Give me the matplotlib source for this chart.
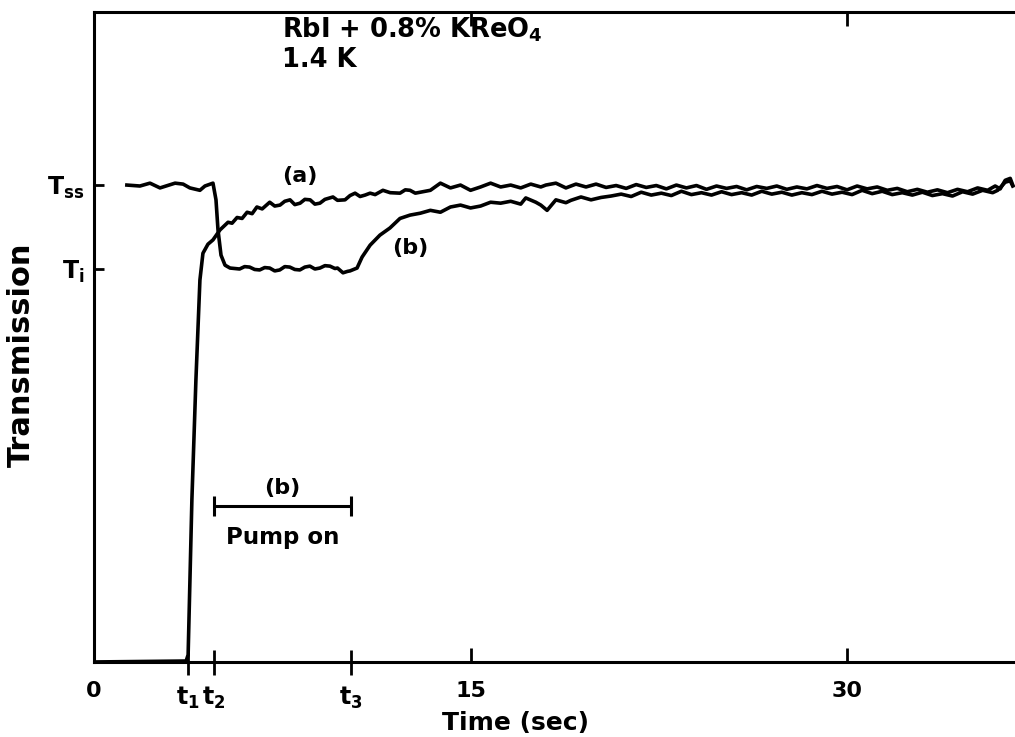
import matplotlib.pyplot as plt
import numpy as np

plt.rcParams['font.family'] = ['DejaVu Sans']
plt.rcParams['mathtext.fontset'] = 'dejavusans'
plt.rcParams['mathtext.default'] = 'bf'

# pulse times (sec)
t1, t2, t3 = 3.75, 4.78, 10.24
T_ss, T_i = 100.0, 82.4   # transmission, % of steady state

# trace (a): light switched on at t1
time_a = [0, 3.67, 3.75, 3.90, 4.06, 4.22, 4.34, 4.54, 4.74, 5.02, 5.34, 5.5,
          5.7, 5.9, 6.1, 6.3, 6.49, 6.7, 7.0, 7.2, 7.41, 7.6, 7.81, 8.0, 8.21,
          8.4, 8.61, 8.8, 9.0, 9.2, 9.52, 9.7, 10.0, 10.2, 10.4, 10.6, 10.8,
          11.0, 11.2, 11.51, 11.8, 12.19, 12.4, 12.59, 12.8,
          13.0, 13.4, 13.8, 14.2, 14.6, 15.0, 15.4, 15.8, 16.2, 16.6, 17.0,
          17.4, 17.8, 18.0, 18.4, 18.8, 19.2, 19.6, 20.0, 20.4, 20.8, 21.2,
          21.6, 22.0, 22.4, 22.8, 23.2, 23.6, 24.0, 24.4, 24.8, 25.2, 25.6,
          26.0, 26.4, 26.8, 27.2, 27.6, 28.0, 28.4, 28.8, 29.2, 29.6, 30.0,
          30.4, 30.8, 31.2, 31.6, 32.0, 32.4, 32.8, 33.2, 33.6, 34.0, 34.4,
          34.8, 35.2, 35.6, 35.9, 36.1, 36.3, 36.5, 36.6]
trans_a = [0, 0.2, 1.5, 34.0, 59.1, 80.1, 85.7, 87.6, 88.5, 90.6, 92.2, 92.0,
           93.2, 93.0, 94.3, 94.0, 95.4, 95.0, 96.4, 95.6, 95.8, 96.6, 96.9, 95.9, 96.2,
           97.0, 96.9, 96.0, 96.2, 97.0, 97.5, 96.8, 96.9, 97.8, 98.3, 97.6, 97.9,
           98.3, 98.0, 98.9, 98.4, 98.3, 99.0, 98.9, 98.3,
           98.5, 98.9, 100.4, 99.4, 100.0, 98.9, 99.6, 100.4, 99.6, 100.0, 99.4,
           100.2, 99.6, 100.0, 100.4, 99.4, 100.2, 99.6, 100.2, 99.5, 99.9, 99.3,
           100.1, 99.5, 99.9, 99.2, 100.0, 99.4, 99.9, 99.1, 99.8, 99.3, 99.7,
           99.0, 99.7, 99.3, 99.8, 99.1, 99.6, 99.2, 99.9, 99.3, 99.7, 99.0,
           99.8, 99.2, 99.6, 98.9, 99.3, 98.6, 99.1, 98.5, 99.0, 98.4, 99.1,
           98.6, 99.4, 98.9, 99.8, 99.2, 101.0, 101.4, 100.0]

# trace (b): pump on between t2 and t3
time_b = [1.31, 1.83, 2.23, 2.63, 3.23, 3.55, 3.82, 4.22, 4.42, 4.74, 4.86,
          4.94, 5.06, 5.22, 5.42, 5.8, 6.0, 6.2, 6.4, 6.6, 6.8, 7.0, 7.2, 7.4,
          7.6, 7.8, 8.0, 8.2, 8.4, 8.6, 8.8, 9.0, 9.2, 9.4, 9.6, 9.7, 9.92,
          10.1, 10.2, 10.48, 10.68, 11.00, 11.39, 11.79, 12.19, 12.59,
          13.0, 13.4, 13.8, 14.2, 14.6, 15.0, 15.4, 15.8, 16.2, 16.6, 17.0,
          17.2, 17.6, 17.8, 18.05, 18.4, 18.8, 19.0, 19.4, 19.8, 20.2, 20.6,
          21.0, 21.4, 21.8, 22.2, 22.6, 23.0, 23.4, 23.8, 24.2, 24.6, 25.0,
          25.4, 25.8, 26.2, 26.6, 27.0, 27.4, 27.8, 28.2, 28.6, 29.0, 29.4,
          29.8, 30.2, 30.6, 31.0, 31.4, 31.8, 32.2, 32.6, 33.0, 33.4, 33.8,
          34.2, 34.6, 35.0, 35.4, 35.8, 36.0, 36.3, 36.5, 36.6]
trans_b = [100.0, 99.8, 100.4, 99.4, 100.4, 100.2, 99.4, 98.9, 99.8, 100.4, 96.9,
           90.6, 85.3, 83.2, 82.6, 82.4, 82.9, 82.8, 82.3, 82.2, 82.7, 82.6, 82.0, 82.2,
           82.9, 82.8, 82.3, 82.2, 82.8, 83.0, 82.4, 82.6, 83.1, 83.0, 82.5, 82.6, 81.6,
           81.9, 82.0, 82.6, 84.9, 87.4, 89.5, 91.0, 93.0, 93.7,
           94.1, 94.7, 94.3, 95.4, 95.8, 95.2, 95.6, 96.4, 96.2, 96.6, 96.0,
           97.3, 96.4, 95.8, 94.7, 96.9, 96.3, 96.8, 97.5, 96.9, 97.4, 97.7,
           98.1, 97.6, 98.5, 97.9, 98.3, 97.8, 98.7, 98.0, 98.4, 97.9, 98.6,
           98.0, 98.4, 97.9, 98.7, 98.1, 98.5, 97.9, 98.4, 98.0, 98.7, 98.1,
           98.5, 98.0, 98.9, 98.2, 98.7, 98.0, 98.4, 97.9, 98.5, 97.8, 98.2,
           97.7, 98.6, 98.1, 98.9, 98.4, 98.9, 100.6, 100.9, 99.8]

fig = plt.figure(figsize=(10.15, 7.37), dpi=100)
ax = fig.add_axes([0.0926, 0.1018, 0.9074, 0.8820])

ax.plot(time_a, trans_a, color='black', lw=2.6, solid_joinstyle='round')
ax.plot(time_b, trans_b, color='black', lw=2.6, solid_joinstyle='round')

# pump-on bar
mid = (t2 + t3) / 2
ax.errorbar([mid], [32.7], xerr=[(t3 - t2) / 2], fmt='none',
            ecolor='black', elinewidth=2.2, capsize=7, capthick=2.2)
ax.text(mid, 36.5, '(b)', fontsize=16, fontweight='bold', ha='center', va='center')
ax.text(mid, 26.0, 'Pump on', fontsize=16.5, fontweight='bold',
        ha='center', va='center')

ax.text(8.2, 101.8, '(a)', fontsize=16, fontweight='bold', ha='center', va='center')
ax.text(12.6, 86.8, '(b)', fontsize=16, fontweight='bold', ha='center', va='center')

ax.text(7.5, 132.5, r'RbI + 0.8% KReO$_4$', fontsize=18.5, fontweight='bold',
        ha='left', va='center')
ax.text(7.5, 126.3, '1.4 K', fontsize=18.5, fontweight='bold', ha='left', va='center')

ax.set_xlim(0, 36.69)
ax.set_ylim(0, 136.3)

ax.set_xticks([0, 15, 30], labels=['0', '15', '30'])
ax.set_xticks([t1, t2, t3], labels=['$t_1$', '$t_2$', '$t_3$'], minor=True)
ax.set_yticks([T_i, T_ss], labels=['$T_i$', '$T_{ss}$'])

ax.tick_params(axis='x', which='major', direction='in', length=10, width=2,
               pad=14, labelsize=16, top=True)
ax.tick_params(axis='x', which='minor', direction='inout', length=18, width=2,
               pad=7.5, labelsize=17, top=False)
ax.tick_params(axis='y', which='major', direction='in', length=7, width=2,
               pad=7, labelsize=17)
for lab in ax.get_xticklabels() + ax.get_xticklabels(minor=True) + ax.get_yticklabels():
    lab.set_fontweight('bold')

for side in ['left', 'bottom', 'top']:
    ax.spines[side].set_linewidth(2.2)
ax.spines['right'].set_visible(False)

ax.set_xlabel('Time (sec)', fontsize=18, fontweight='bold')
ax.xaxis.set_label_coords(0.458, -0.075)
ax.set_ylabel('Transmission', fontsize=22, fontweight='bold')
ax.yaxis.set_label_coords(-0.063, 0.472)

fig.savefig('out.png', dpi=100)
